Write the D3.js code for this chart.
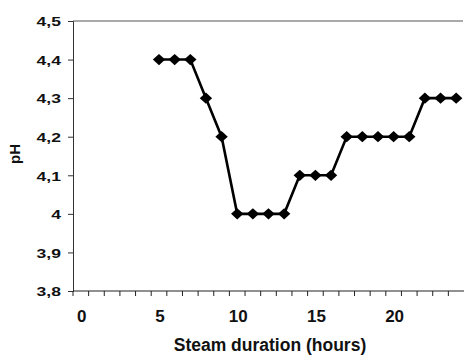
<!DOCTYPE html>
<html><head><meta charset="utf-8">
<script src="https://cdn.jsdelivr.net/npm/d3@7"></script>
<style>body{margin:0;background:#fff}svg{display:block}</style>
</head><body>
<script>
const categories = d3.range(0, 25);
const hours = [5,6,7,8,9,10,11,12,13,14,15,16,17,18,19,20,21,22,23,24];
const phValues = [4.4,4.4,4.4,4.3,4.2,4.0,4.0,4.0,4.0,4.1,4.1,4.1,4.2,4.2,4.2,4.2,4.2,4.3,4.3,4.3];
const yTicks = [3.8,3.9,4.0,4.1,4.2,4.3,4.4,4.5];
const xLabels = [0,5,10,15,20];

const W = 464, H = 356;
const m = {left:73, right:0, top:21, bottom:65};
const svg = d3.select("body").append("svg").attr("width", W).attr("height", H);
const x = d3.scaleBand().domain(categories).range([m.left, W - m.right]);
const y = d3.scaleLinear().domain([3.8, 4.5]).range([H - m.bottom, m.top]);
const font = "Liberation Sans, Arial, sans-serif";

// plot border (top)
svg.append("line").attr("x1", m.left).attr("x2", W - 1).attr("y1", m.top).attr("y2", m.top)
  .attr("stroke","#555").attr("stroke-width",1);

// y axis
const yAxis = svg.append("g").attr("transform", `translate(${m.left},0)`)
  .call(d3.axisLeft(y).tickValues(yTicks).tickSize(5).tickFormat(""));
yAxis.select(".domain").attr("stroke","#333");
yAxis.selectAll("line").attr("stroke","#333");
svg.append("g").selectAll("text").data(yTicks).enter().append("text")
  .attr("transform", d => `translate(61,${y(d) + 5.3}) scale(1.35,1)`)
  .attr("text-anchor","end").attr("font-family", font).attr("font-weight","bold")
  .attr("font-size", 13).attr("fill","#111")
  .text(d => d === 4 ? "4" : d3.format(".1f")(d).replace(".", ","));

// x axis: ticks between categories, labels at category centers
const xg = svg.append("g").attr("transform", `translate(0,${H - m.bottom})`);
xg.append("line").attr("x1", m.left).attr("x2", W - m.right)
  .attr("stroke","#222").attr("stroke-width",1.2);
xg.selectAll("line.tk").data(categories).enter()
  .append("line").attr("class","tk")
  .attr("x1", d => x(d)).attr("x2", d => x(d))
  .attr("y1", 0).attr("y2", 5).attr("stroke","#222");
xg.selectAll("text").data(xLabels).enter().append("text")
  .attr("x", d => x(d) + x.bandwidth()/2 + 1).attr("y", 30.5)
  .attr("text-anchor","middle").attr("font-family", font).attr("font-weight","bold")
  .attr("font-size", 17).attr("fill","#111").text(d => d);

// axis titles
svg.append("text").attr("x", 270).attr("y", 350.5).attr("text-anchor","middle")
  .attr("font-family", font).attr("font-weight","bold").attr("font-size", 17.5)
  .attr("fill","#111").text("Steam duration (hours)");
svg.append("text").attr("transform", "translate(20,154) rotate(-90)")
  .attr("text-anchor","middle").attr("font-family", font).attr("font-weight","bold")
  .attr("font-size", 15).attr("fill","#111").text("pH");

// line + markers
const data = hours.map((h,i) => ({h, v: phValues[i]}));
const cx = d => x(d.h) + x.bandwidth()/2;
svg.append("path").datum(data)
  .attr("d", d3.line().x(cx).y(d => y(d.v)))
  .attr("fill","none").attr("stroke","#000").attr("stroke-width",2.6);
svg.selectAll("path.mk").data(data).enter().append("path").attr("class","mk")
  .attr("transform", d => `translate(${cx(d)},${y(d.v)})`)
  .attr("d", "M0,-5.6L6.2,0L0,5.6L-6.2,0Z").attr("fill","#000");
</script>
</body></html>
